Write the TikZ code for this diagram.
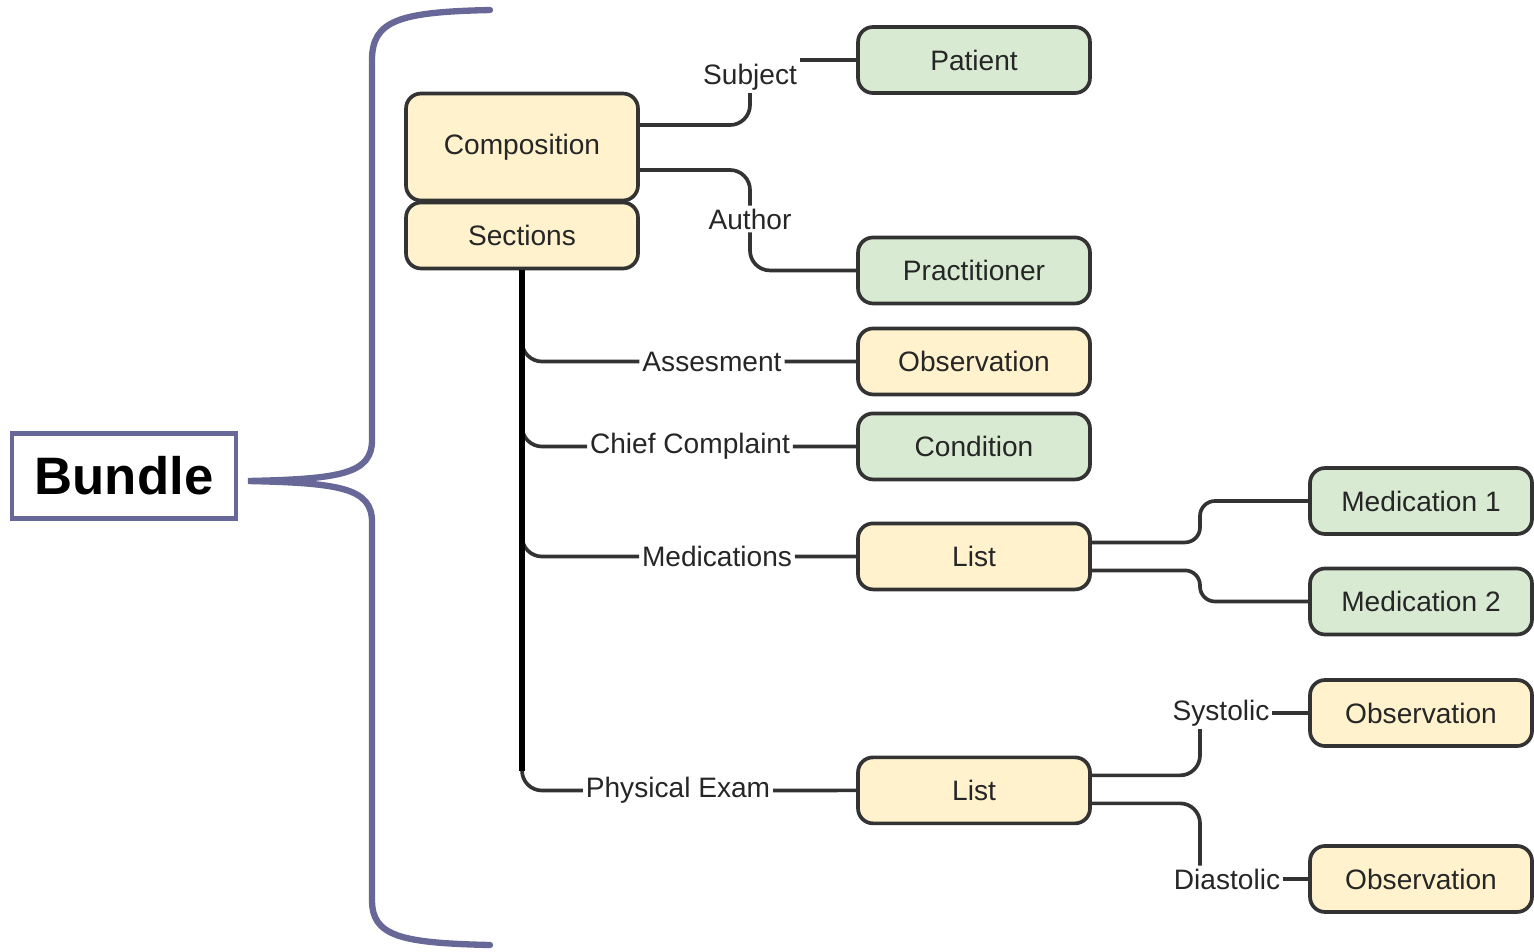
\documentclass[tikz,border=0pt]{standalone}
\usepackage{fontspec}
\setmainfont{Liberation Sans}
\usetikzlibrary{positioning, calc}

\definecolor{boxyellow}{RGB}{255,242,204}
\definecolor{boxgreen}{RGB}{217,234,211}
\definecolor{bracecol}{RGB}{104,104,152}
\definecolor{linecol}{RGB}{51,51,51}

\tikzset{
  box/.style={draw=linecol, line width=2.1pt, rounded corners=0.3cm,
    minimum width=4.64cm, minimum height=1.32cm,
    font=\fontsize{16}{19}\selectfont, text=black!85},
  yellowbox/.style={box, fill=boxyellow},
  greenbox/.style={box, fill=boxgreen},
  leafbox/.style={minimum width=4.44cm},
  lbl/.style={inner sep=1.5pt, font=\fontsize{16}{19}\selectfont, text=black!85},
  conn/.style={draw=linecol, line width=2.1pt, rounded corners=0.4cm},
  trunk/.style={draw=black, line width=3pt},
}

\begin{document}
\begin{tikzpicture}[x=0.02cm, y=-0.02cm, on grid]
   \useasboundingbox (0,0) rectangle (1534,951);

   % bundle and its brace
   \node[draw=bracecol, line width=2.4pt, minimum width=4.48cm, minimum height=1.7cm,
         font=\bfseries\fontsize{30}{36}\selectfont] (bundle) at (124,476) {Bundle};
   \draw[bracecol, line width=3.6pt, line cap=round]
     (490,10) .. controls (400,12) and (372,20) .. (372,60) -- (372,440)
     .. controls (372,474) and (340,479) .. (248,481)
     .. controls (340,483) and (372,488) .. (372,522) -- (372,900)
     .. controls (372,936) and (400,943) .. (490,945);

   % composition
   \node[yellowbox, minimum height=2.14cm] (comp) at (522,147) {Composition};
   \node[yellowbox, below=1.77cm of comp] (sec) {Sections};

   % resources
   \node[greenbox] (patient) at (974,60) {Patient};
   \node[greenbox, below=4.21cm of patient] (pract) {Practitioner};
   \node[yellowbox, below=1.82cm of pract] (obs1) {Observation};
   \node[greenbox, below=1.7cm of obs1] (cond) {Condition};
   \node[yellowbox, below=2.2cm of cond] (list1) {List};
   \node[yellowbox, below=4.68cm of list1] (list2) {List};

   \node[greenbox, leafbox] (med1) at (1421,501) {Medication 1};
   \node[greenbox, leafbox, below=2.01cm of med1] (med2) {Medication 2};
   \node[yellowbox, leafbox] (obs2) at (1421,713) {Observation};
   \node[yellowbox, leafbox, below=3.32cm of obs2] (obs3) {Observation};

   % labels
   \node[lbl] (subj) at (750,77) {Subject};
   \node[lbl] (auth) at (750,219) {Author};
   \node[lbl] (assess) at (712,361.5) {Assesment};
   \node[lbl] (chief) at (690,446.5) {Chief Complaint};
   \node[lbl] (meds) at (717,556.5) {Medications};
   \node[lbl] (phys) at (678,790.5) {Physical Exam};
   \node[lbl] (syst) at (1221,713) {Systolic};
   \node[lbl] (diast) at (1227,879) {Diastolic};

   % composition links
   \draw[conn] ([yshift=0.44cm]comp.east) -| (subj.south);
   \draw[conn] (subj.east |- patient.west) -- (patient.west);
   \draw[conn] ([yshift=-0.46cm]comp.east) -| (auth.north);
   \draw[conn] (auth.south) |- (pract.west);

   % sections
   \foreach \l in {assess, chief, meds, phys}
     \draw[conn] (sec.south) |- (\l.west);
   \draw[trunk, shorten >=0.4cm] (sec.south) -- (sec.south |- phys.west);
   \foreach \l/\b in {assess/obs1, chief/cond, meds/list1, phys/list2}
     \draw[conn] (\l.east) -- (\b.west);

   % lists
   \coordinate (forka) at ($(list1.east)!0.5!(med1.west)$);
   \draw[conn, rounded corners=0.3cm] ([yshift=0.28cm]list1.east) -| (forka |- med1.west) -- (med1.west);
   \draw[conn, rounded corners=0.3cm] ([yshift=-0.28cm]list1.east) -| (forka |- med2.west) -- (med2.west);

   \coordinate (forkb) at ($(list2.east)!0.5!(obs2.west)$);
   \draw[conn] ([yshift=0.3cm]list2.east) -| (forkb |- syst.south);
   \draw[conn] ([yshift=-0.26cm]list2.east) -| (forkb |- diast.north);
   \draw[conn] (syst.east) -- (obs2.west);
   \draw[conn] (diast.east) -- (obs3.west);
\end{tikzpicture}
\end{document}
